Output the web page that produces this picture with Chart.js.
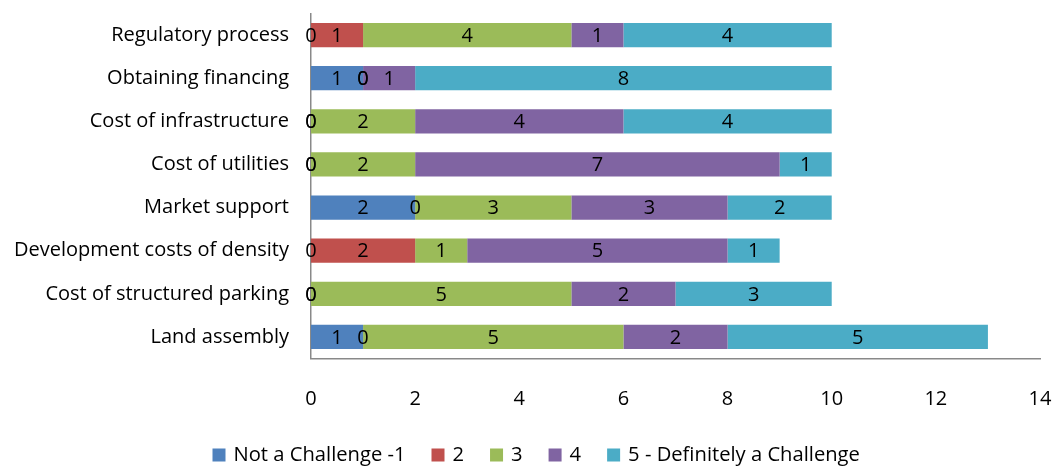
<!DOCTYPE html>
<html>
<head>
<meta charset="utf-8">
<script src="https://cdn.jsdelivr.net/npm/chart.js@4.4.1/dist/chart.umd.min.js"></script>
<style>
html,body{margin:0;padding:0;background:#fff;}
#wrap{width:1057px;height:468px;}
</style>
</head>
<body>
<div id="wrap"><canvas id="c" width="1057" height="468"></canvas></div>
<script>
const categories = ["Regulatory process","Obtaining financing","Cost of infrastructure","Cost of utilities","Market support","Development costs of density","Cost of structured parking","Land assembly"];
const seriesNames = ["Not a Challenge -1","2","3","4","5 - Definitely a Challenge"];
const notAChallenge = [0,1,0,0,2,0,0,1];
const rating2 = [1,0,0,0,0,2,0,0];
const rating3 = [4,0,2,2,3,1,5,5];
const rating4 = [1,1,4,7,3,5,2,2];
const definitelyChallenge = [4,8,4,1,2,1,3,5];
const xTicks = [0,2,4,6,8,10,12,14];

const colors = ["#4F81BD","#C0504D","#9BBB59","#8064A2","#4BACC6"];
const FONT = "'Open Sans', sans-serif";

const seriesData = [notAChallenge, rating2, rating3, rating4, definitelyChallenge];

const labelPlugin = {
  id: 'barLabels',
  afterDatasetsDraw(chart) {
    const ctx = chart.ctx;
    ctx.save();
    ctx.font = "20px " + FONT;
    ctx.fillStyle = "#000";
    ctx.textAlign = "center";
    ctx.textBaseline = "middle";
    chart.data.datasets.forEach((ds, i) => {
      const meta = chart.getDatasetMeta(i);
      meta.data.forEach((el, j) => {
        const v = ds.data[j];
        if (v === null || v === undefined) return;
        const p = el.getCenterPoint();
        ctx.fillText(String(v), p.x, p.y + 1);
      });
    });
    ctx.restore();
  }
};

// Legend drawn from the chart's own datasets
const legendPlugin = {
  id: 'refLegend',
  afterDraw(chart) {
    const ctx = chart.ctx;
    ctx.save();
    ctx.font = "20px " + FONT;
    ctx.textBaseline = "middle";
    ctx.textAlign = "left";
    const squeeze = 172 / ctx.measureText(chart.data.datasets[0].label).width;
    const cy = 455;
    let x = 212.5;
    chart.data.datasets.forEach((ds) => {
      ctx.fillStyle = ds.backgroundColor;
      ctx.fillRect(x, cy - 6.5, 13, 13);
      x += 21;
      const w = ctx.measureText(ds.label).width * squeeze;
      ctx.save();
      ctx.translate(x, cy);
      ctx.scale(squeeze, 1);
      ctx.fillStyle = "#000";
      ctx.fillText(ds.label, 0, 0);
      ctx.restore();
      x += w + 26;
    });
    ctx.restore();
  }
};

new Chart(document.getElementById('c'), {
  type: 'bar',
  data: {
    labels: categories,
    datasets: seriesData.map((d, i) => ({
      label: seriesNames[i],
      data: d,
      backgroundColor: colors[i],
      borderWidth: 0,
      barPercentage: 0.56,
      categoryPercentage: 1.0
    }))
  },
  options: {
    indexAxis: 'y',
    responsive: false,
    animation: false,
    layout: { padding: { left: 0, right: 17, top: 13.5, bottom: 0 } },
    plugins: {
      tooltip: { enabled: false },
      legend: { display: false }
    },
    scales: {
      x: {
        stacked: true,
        min: 0,
        max: 14,
        afterBuildTicks(scale) { scale.ticks = xTicks.map(v => ({ value: v })); },
        ticks: { font: { size: 20, family: FONT }, color: '#000', padding: 29 },
        grid: { display: false, drawTicks: false },
        border: { display: true, color: '#898989', width: 1.5 },
        afterFit(scale) { scale.height = 109.5; scale.paddingLeft = 0; scale.paddingRight = 0; }
      },
      y: {
        stacked: true,
        ticks: { font: { size: 20, family: FONT }, color: '#000', padding: 22 },
        grid: { display: false, drawTicks: false },
        border: { display: true, color: '#898989', width: 1.5 },
        afterFit(scale) { scale.width = 311; scale.paddingTop = 0; scale.paddingBottom = 0; }
      }
    }
  },
  plugins: [labelPlugin, legendPlugin]
});
</script>
</body>
</html>
